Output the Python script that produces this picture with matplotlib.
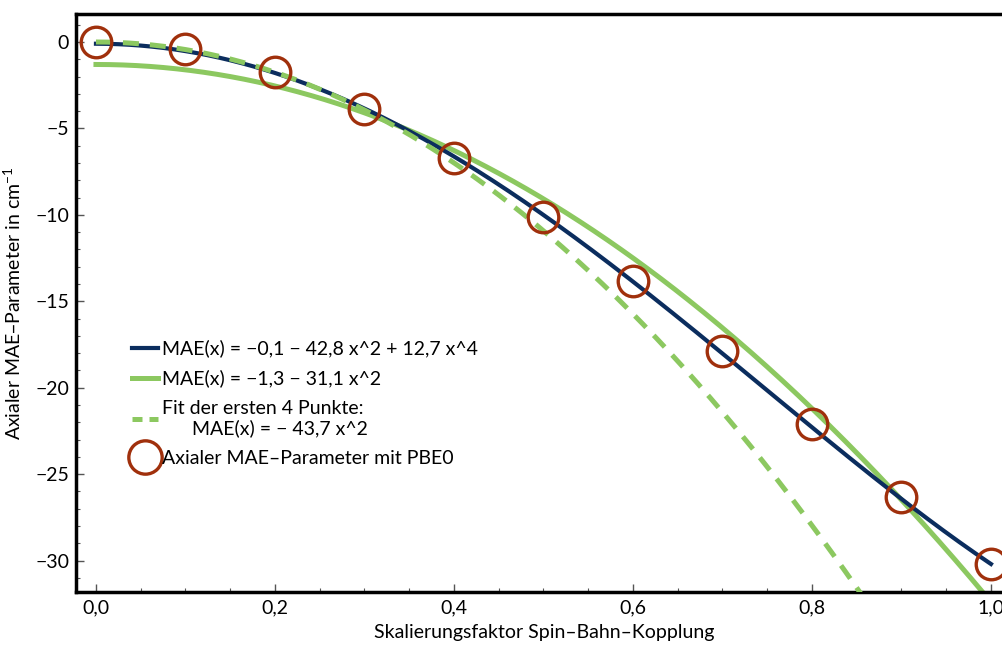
import numpy as np
import matplotlib
matplotlib.use("Agg")
import matplotlib.pyplot as plt
from matplotlib.lines import Line2D
from matplotlib.ticker import MultipleLocator, FuncFormatter

# --- data ---
scale_x = [0.0, 0.1, 0.2, 0.3, 0.4, 0.5, 0.6, 0.7, 0.8, 0.9, 1.0]
mae_pbe0 = [0.0, -0.4, -1.75, -3.9, -6.7, -10.1, -13.8, -17.9, -22.1, -26.3, -30.2]

# fit coefficients as printed in the legend (c0, c2, c4)
fit_quartic = (-0.1, -42.8, 12.7)
fit_quadratic = (-1.3, -31.1, 0.0)
fit_first4 = (0.0, -43.7, 0.0)

col_blue = '#0b2d5e'
col_green = '#8cc860'
col_brown = '#a0300c'

plt.rcParams['font.family'] = ['Lato', 'DejaVu Sans']
plt.rcParams['font.size'] = 14
plt.rcParams['axes.unicode_minus'] = True

fig = plt.figure(figsize=(10.02, 6.45), dpi=100)
ax = fig.add_axes([76 / 1002, 53 / 645, (1012 - 76) / 1002, (592 - 14) / 645])


def poly(c, x):
    return c[0] + c[1] * x ** 2 + c[2] * x ** 4


xs = np.linspace(0, 1.0, 400)
ax.plot(xs, poly(fit_quadratic, xs), color=col_green, lw=3.6, zorder=2)
ax.plot(xs, poly(fit_quartic, xs), color=col_blue, lw=3.0, zorder=3)
ax.plot(xs, poly(fit_first4, xs), color=col_green, lw=3.6, ls=(0, (3.2, 2.2)), zorder=4)
ax.plot(scale_x, mae_pbe0, 'o', ms=22, mfc='none', mec=col_brown, mew=2.4, zorder=5)

ax.set_xlim(-0.0223, 1.0235)
ax.set_ylim(-31.82, 1.62)

ax.xaxis.set_major_locator(MultipleLocator(0.2))
ax.xaxis.set_minor_locator(MultipleLocator(0.05))
ax.yaxis.set_major_locator(MultipleLocator(5))
ax.yaxis.set_minor_locator(MultipleLocator(1))
ax.xaxis.set_major_formatter(FuncFormatter(lambda v, p: f"{v:.1f}".replace('.', ',')))
ax.yaxis.set_major_formatter(FuncFormatter(lambda v, p: f"{v:.0f}".replace('-', '\u2212')))
ax.tick_params(which='both', direction='in', color='#555555', top=False, right=False)
ax.tick_params(which='major', length=6, width=1, pad=5)
ax.tick_params(which='minor', length=3, width=0.8)

for s in ['left', 'bottom', 'top']:
    ax.spines[s].set_linewidth(2.5)
ax.spines['right'].set_visible(False)

ax.set_xlabel('Skalierungsfaktor Spin\u2013Bahn\u2013Kopplung', labelpad=6)
ax.set_ylabel('Axialer MAE\u2013Parameter in cm$^{\\mathregular{-1}}$', labelpad=8)

handles = [
    Line2D([], [], color=col_blue, lw=3.0),
    Line2D([], [], color=col_green, lw=3.6),
    Line2D([], [], color=col_green, lw=3.6, ls=(0, (2.0, 1.4))),
    Line2D([], [], ls='none', marker='o', ms=24, mfc='none', mec=col_brown, mew=2.4),
]
labels = [
    'MAE(x) = \u22120,1 \u2212 42,8 x^2 + 12,7 x^4',
    'MAE(x) = \u22121,3 \u2212 31,1 x^2',
    'Fit der ersten 4 Punkte:\n      MAE(x) = \u2212 43,7 x^2',
    'Axialer MAE\u2013Parameter mit PBE0',
]
ax.legend(handles, labels, loc='upper left', bbox_to_anchor=(122 / 1002, 1 - 330 / 645),
          bbox_transform=fig.transFigure, frameon=False, handlelength=1.35,
          handletextpad=0.2, labelspacing=0.62, borderpad=0, fontsize=14)

fig.savefig('out.png', dpi=100)
